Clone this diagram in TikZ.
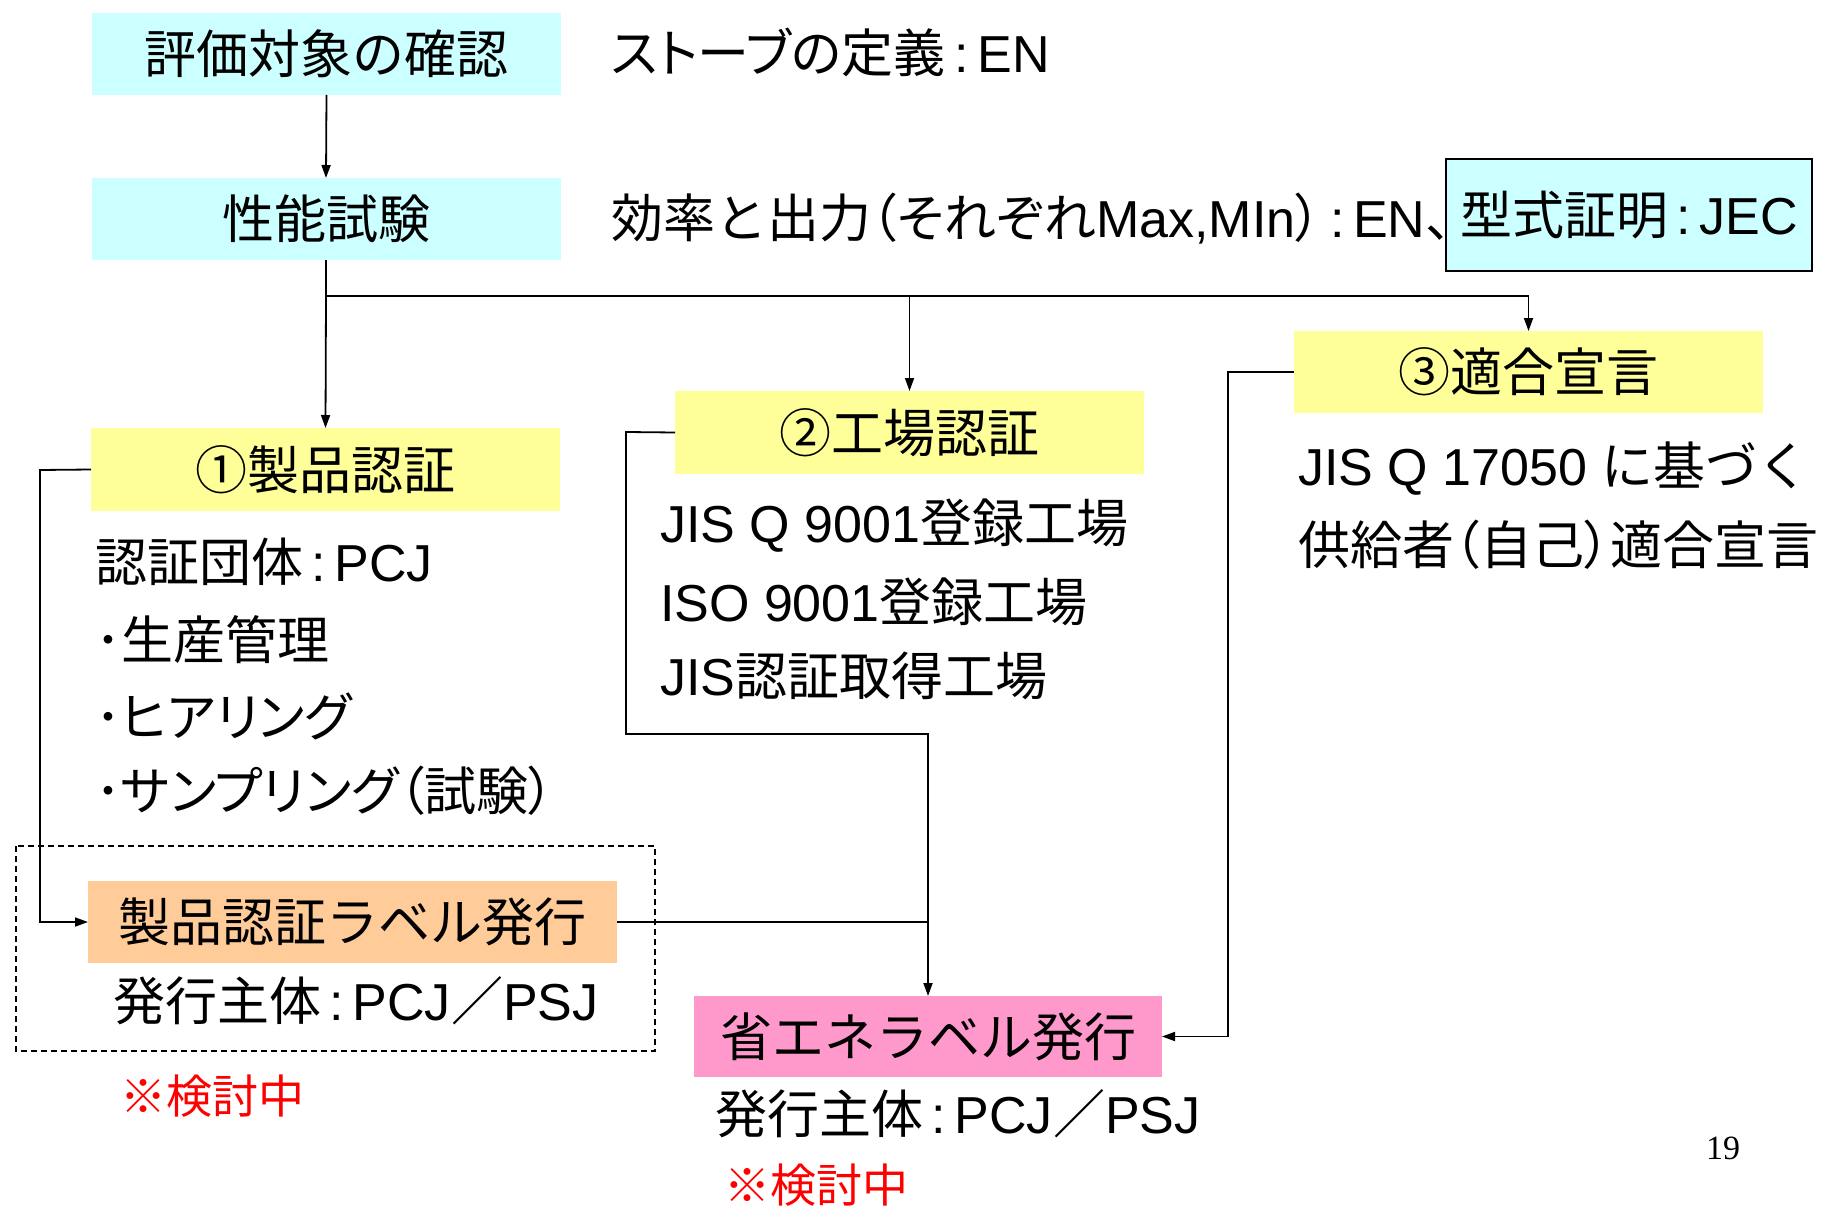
\documentclass[tikz,border=0pt]{standalone}
\usepackage{fontspec}
\setmainfont{Noto Sans CJK JP}
\newfontfamily\paltf{Noto Sans CJK JP}[RawFeature=+palt]
\newfontfamily\arialf{Liberation Sans}
\newfontfamily\serf{Liberation Serif}
\usetikzlibrary{arrows.meta}
\newcommand\arl[1]{{\arialf #1}}
\newcommand\prp[1]{{\paltf #1}}
\newcommand\cln{{\arialf\,:\,}}
\definecolor{cyanF}{HTML}{CCFFFF}
\definecolor{yelF}{HTML}{FFFF99}
\definecolor{oraF}{HTML}{FFCC99}
\definecolor{pinF}{HTML}{FF99CC}
\begin{document}
\begin{tikzpicture}[x=1pt,y=-1pt,
  every node/.style={inner sep=0pt, outer sep=0pt, font=\fontsize{52}{60}\selectfont},
  fbox/.style={minimum width=469pt, minimum height=82pt},
  txt/.style={anchor=west},
  note/.style={anchor=west, text=red, font=\fontsize{46}{54}\selectfont},
  conn/.style={line width=1.8pt},
  arr/.style={line width=1.8pt, -{Triangle[length=13pt,width=9pt]}},
]
\path[use as bounding box] (0,0) rectangle (1825,1206);

% top boxes
\node[fbox, fill=cyanF] (b1) at (326.5,54) {評価対象の確認};
\node[fbox, fill=cyanF] (b2) at (326,219) {性能試験};
\node[txt] (t1) at (611,52) {\prp{ストーブの}定義\cln\arl{EN}};
\node[txt] (t2) at (611,219) {効率と出力\prp{（それぞれ}\arl{Max,MIn}\prp{）}\cln\arl{EN}、};
\node[draw, line width=1.6pt, fill=cyanF, minimum width=366pt, minimum height=112pt] (jec) at (1629,215) {型式証明\cln\arl{JEC}};

% three routes
\node[fbox, fill=yelF, minimum height=83pt] (c1) at (325.5,469.5) {①製品認証};
\node[fbox, fill=yelF, minimum height=83pt] (c2) at (909.5,432.5) {②工場認証};
\node[fbox, fill=yelF] (c3) at (1528.5,372) {③適合宣言};

\node[txt] (l1a) at (95,562) {認証団体\cln\arl{PCJ}};
\node[txt] (l1b) at (95,640) {･生産管理};
\node[txt] (l1c) at (95,716) {･\prp{ヒアリング}};
\node[txt] (l1d) at (95,791) {･\prp{サンプリング（}試験\prp{）}};

\node[txt] (l2a) at (660,526) {\arl{JIS Q 9001}登録工場};
\node[txt] (l2b) at (660,602) {\arl{ISO 9001}登録工場};
\node[txt] (l2c) at (660,676) {\arl{JIS}認証取得工場};

\node[txt] (l3a) at (1298,469) {\arl{JIS Q 17050 }に基づく};
\node[txt] (l3b) at (1298,545) {供給者\prp{（}自己\prp{）}適合宣言};

% labels
\draw[line width=1.6pt, dash pattern=on 6pt off 4pt] (16,846) rectangle (655,1051);
\node[fbox, fill=oraF, minimum width=529pt] (lab) at (352.5,922) {製品認証ラベル発行};
\node[txt] (lab2) at (113,1001) {発行主体\cln\arl{PCJ}／\arl{PSJ}};
\node[note] (n1) at (120,1096) {※検討中};

\node[fbox, fill=pinF, minimum width=468pt, minimum height=81pt] (sho) at (928,1036.5) {省エネラベル発行};
\node[txt] (sho2) at (715,1114) {発行主体\cln\arl{PCJ}／\arl{PSJ}};
\node[note] (n2) at (724,1185) {※検討中};

\node[font=\fontsize{34}{40}\serf] (pg) at (1723,1148) {19};

% connectors
\coordinate (split) at (326,296);
\draw[arr] (b1.south) -- (b2.north);
\draw[conn] (b2.south) -- (split);
\draw[arr] (split) -- (c1.north);
\draw[conn] (split) -- (split -| c3.north);
\draw[arr] (split -| c2.north) -- (c2.north);
\draw[arr] (split -| c3.north) -- (c3.north);

\coordinate (k1) at (40,470);
\draw[arr] (c1.west) -- (k1) |- (lab.west);

\coordinate (k2) at (626,432);
\coordinate (k2b) at (626,734);
\draw[arr] (c2.west) -- (k2) -- (k2b) -| (sho.north);
\draw[conn] (lab.east) -- (lab.east -| sho.north);

\coordinate (k3) at (1228,372);
\draw[arr] (c3.west) -- (k3) |- (sho.east);
\end{tikzpicture}
\end{document}
